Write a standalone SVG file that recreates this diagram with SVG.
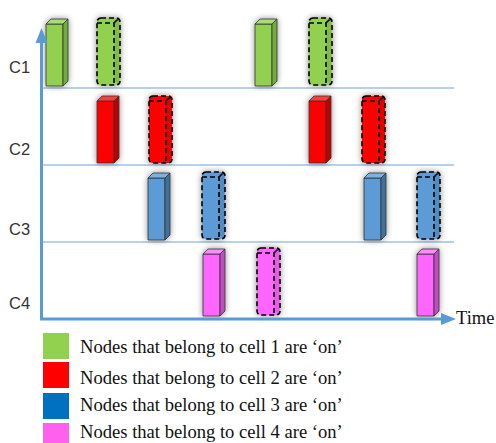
<svg xmlns="http://www.w3.org/2000/svg" width="496" height="443" viewBox="0 0 496 443">
<style>
.axis{stroke:#5B9BD5;stroke-width:3;fill:none}
.grid{stroke:#9DC3E6;stroke-width:1.3}
.lbl{font-family:"Liberation Sans",Arial,sans-serif;font-size:16.5px;fill:#333}
.leg{font-family:"Liberation Serif","Times New Roman",serif;font-size:18.6px;fill:#111}
.edge{stroke:#333;stroke-width:0.8;stroke-linejoin:round}
.dash{stroke:#000;stroke-width:1.6;stroke-dasharray:5 3;fill:none;stroke-linejoin:round}
.g1{fill:#92D050}.g1s{fill:#72AC3A}.g1t{fill:#A9DC78}
.r1{fill:#FF0000}.r1s{fill:#C00000}.r1t{fill:#FF3B3B}
.b1{fill:#5B9BD5}.b1s{fill:#41719C}.b1t{fill:#7DB1E0}
.p1{fill:#FF66FF}.p1s{fill:#C24CC2}.p1t{fill:#FF8CFF}
</style>
<defs>
<filter id="sh" x="-60%" y="-30%" width="220%" height="160%">
<feGaussianBlur in="SourceAlpha" stdDeviation="3"/>
<feComponentTransfer><feFuncA type="linear" slope="0.45"/></feComponentTransfer>
<feMerge><feMergeNode/><feMergeNode in="SourceGraphic"/></feMerge>
</filter>
<g id="dashed">
<rect x="0" y="-5" width="23" height="67" rx="4"/>
<rect x="17" y="-3" width="5" height="62" opacity="0.1" fill="#000"/>
<rect class="dash" x="0" y="-5" width="23" height="67" rx="4"/>
<polyline class="dash" points="0,0 17,0 17,62"/>
<line class="dash" x1="17" y1="0" x2="22" y2="-5"/>
</g>
</defs>
<rect width="496" height="443" fill="#fff"/>

<g id="grid">
<line class="grid" x1="41" y1="88" x2="454" y2="88"/>
<line class="grid" x1="41" y1="165" x2="454" y2="165"/>
<line class="grid" x1="41" y1="242" x2="454" y2="242"/>
</g>

<g id="labels">
<text class="lbl" x="9" y="73">C1</text>
<text class="lbl" x="9" y="155">C2</text>
<text class="lbl" x="9" y="235">C3</text>
<text class="lbl" x="9" y="309">C4</text>
</g>

<g id="c1-bars" filter="url(#sh)">
<g id="c1-b1" class="g1" transform="translate(46,24)"><rect class="edge g1" width="17" height="62"/><polygon class="edge g1s" points="17,0 22,-5 22,57 17,62"/><polygon class="edge g1t" points="0,0 5,-5 22,-5 17,0"/></g>
<g id="c1-b2" class="g1" transform="translate(97,23)"><use href="#dashed"/></g>
<g id="c1-b3" class="g1" transform="translate(255,24)"><rect class="edge g1" width="17" height="62"/><polygon class="edge g1s" points="17,0 22,-5 22,57 17,62"/><polygon class="edge g1t" points="0,0 5,-5 22,-5 17,0"/></g>
<g id="c1-b4" class="g1" transform="translate(309,23)"><use href="#dashed"/></g>
</g>

<g id="c2-bars" filter="url(#sh)">
<g id="c2-b1" class="r1" transform="translate(97,101)"><rect class="edge r1" width="17" height="62"/><polygon class="edge r1s" points="17,0 22,-5 22,57 17,62"/><polygon class="edge r1t" points="0,0 5,-5 22,-5 17,0"/></g>
<g id="c2-b2" class="r1" transform="translate(149,101)"><use href="#dashed"/></g>
<g id="c2-b3" class="r1" transform="translate(309,101)"><rect class="edge r1" width="17" height="62"/><polygon class="edge r1s" points="17,0 22,-5 22,57 17,62"/><polygon class="edge r1t" points="0,0 5,-5 22,-5 17,0"/></g>
<g id="c2-b4" class="r1" transform="translate(362,101)"><use href="#dashed"/></g>
</g>

<g id="c3-bars" filter="url(#sh)">
<g id="c3-b1" class="b1" transform="translate(148,178)"><rect class="edge b1" width="17" height="62"/><polygon class="edge b1s" points="17,0 22,-5 22,57 17,62"/><polygon class="edge b1t" points="0,0 5,-5 22,-5 17,0"/></g>
<g id="c3-b2" class="b1" transform="translate(202,177)"><use href="#dashed"/></g>
<g id="c3-b3" class="b1" transform="translate(364,178)"><rect class="edge b1" width="17" height="62"/><polygon class="edge b1s" points="17,0 22,-5 22,57 17,62"/><polygon class="edge b1t" points="0,0 5,-5 22,-5 17,0"/></g>
<g id="c3-b4" class="b1" transform="translate(417,177)"><use href="#dashed"/></g>
</g>

<g id="c4-bars" filter="url(#sh)">
<g id="c4-b1" class="p1" transform="translate(203,254)"><rect class="edge p1" width="17" height="62"/><polygon class="edge p1s" points="17,0 22,-5 22,57 17,62"/><polygon class="edge p1t" points="0,0 5,-5 22,-5 17,0"/></g>
<g id="c4-b2" class="p1" transform="translate(257,253)"><use href="#dashed"/></g>
<g id="c4-b3" class="p1" transform="translate(417,254)"><rect class="edge p1" width="17" height="62"/><polygon class="edge p1s" points="17,0 22,-5 22,57 17,62"/><polygon class="edge p1t" points="0,0 5,-5 22,-5 17,0"/></g>
</g>

<g id="axes">
<line class="axis" x1="41.5" y1="320" x2="41.5" y2="40"/>
<polygon fill="#5B9BD5" points="41.5,28 35.5,43 47.5,43"/>
<line class="axis" x1="40" y1="319" x2="443" y2="319"/>
<polygon fill="#5B9BD5" points="456,319 441,313 441,325"/>
<text class="leg" x="456" y="324" style="font-size:18.5px">Time</text>
</g>

<g id="legend">
<g id="leg1"><rect x="43" y="333" width="26" height="26" fill="#92D050"/><text class="leg" x="80" y="353">Nodes that belong to cell 1 are ‘on’</text></g>
<g id="leg2"><rect x="43" y="362" width="26" height="26" fill="#FF0000"/><text class="leg" x="80" y="384">Nodes that belong to cell 2 are ‘on’</text></g>
<g id="leg3"><rect x="43" y="393" width="26" height="26" fill="#0070C0"/><text class="leg" x="80" y="411">Nodes that belong to cell 3 are ‘on’</text></g>
<g id="leg4"><rect x="43" y="423" width="26" height="26" fill="#FF61EE"/><text class="leg" x="80" y="438">Nodes that belong to cell 4 are ‘on’</text></g>
</g>
</svg>
